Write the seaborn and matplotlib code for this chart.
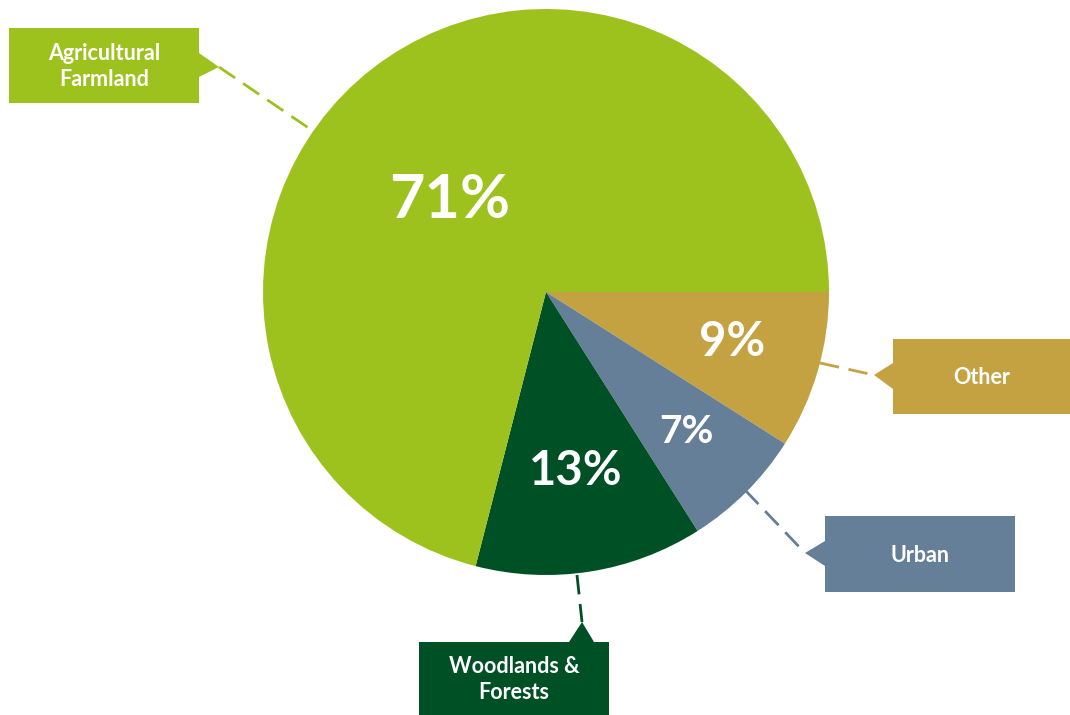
import numpy as np
import matplotlib
matplotlib.use("Agg")
import matplotlib.pyplot as plt
from matplotlib.patches import Rectangle, Polygon
import seaborn as sns

# ---- data ----
categories = ["Other", "Urban", "Woodlands &\nForests", "Agricultural\nFarmland"]
shares = [9, 7, 13, 71]
colors = ["#C4A141", "#667F98", "#005026", "#9DC21E"]

sns.set_theme(style="white")
plt.rcParams["font.family"] = ["Lato", "DejaVu Sans"]

W, H = 1070, 715
fig = plt.figure(figsize=(W / 100, H / 100), dpi=100)
ax = fig.add_axes([0, 0, 1, 1])

cx, cy, R = 546, H - 292, 283
wedges, _ = ax.pie(shares, colors=colors, startangle=0, counterclock=False,
                   center=(cx, cy), radius=R, frame=True,
                   wedgeprops=dict(linewidth=0))

# percentage labels: radial distance (fraction of R), angle offset, font size
pct_dist = [0.68, 0.70, 0.64, 0.47]
pct_dang = [1.0, 0.2, 0.3, 8.7]
pct_size = [34, 28, 34, 44]
for w, s, d, da, fs in zip(wedges, shares, pct_dist, pct_dang, pct_size):
    ang = np.deg2rad((w.theta1 + w.theta2) / 2 + da)
    ax.text(cx + d * R * np.cos(ang), cy + d * R * np.sin(ang), f"{s}%",
            ha="center", va="center", color="white", fontsize=fs,
            fontweight="bold")

# callout boxes: (x0, y0, x1, y1) in pixels from top-left, pointer polygon, dashed line
boxes = [
    ((893, 339, 1070, 414), [(893, 363), (874, 375), (893, 389)], [(820, 363), (874, 375)]),
    ((825, 516, 1015, 592), [(825, 541), (805, 553), (825, 566)], [(745, 490), (805, 553)]),
    ((419, 642, 609, 715), [(569, 642), (582, 622), (594, 642)], [(577, 575), (582, 622)]),
    ((9, 28, 199, 103), [(199, 53), (219, 67), (199, 77)], [(219, 67), (313, 131)]),
]
for (b, poly, line), lab, col in zip(boxes, categories, colors):
    x0, y0, x1, y1 = b
    ax.add_patch(Rectangle((x0, H - y1), x1 - x0, y1 - y0, facecolor=col,
                           edgecolor="none", zorder=3))
    ax.add_patch(Polygon([(px, H - py) for px, py in poly], closed=True,
                         facecolor=col, edgecolor="none", zorder=3))
    ax.plot([p[0] for p in line], [H - p[1] for p in line], color=col,
            lw=2.0, linestyle=(0, (7, 3.5)), zorder=2, solid_capstyle="butt")
    ax.text((x0 + x1) / 2, H - (y0 + y1) / 2 - 1, lab, ha="center", va="center",
            color="white", fontsize=15.5, fontweight="bold", linespacing=1.25,
            zorder=4)

ax.set_xlim(0, W)
ax.set_ylim(0, H)
ax.set_aspect("equal")
ax.axis("off")
fig.savefig("out.png", dpi=100, facecolor="white")
